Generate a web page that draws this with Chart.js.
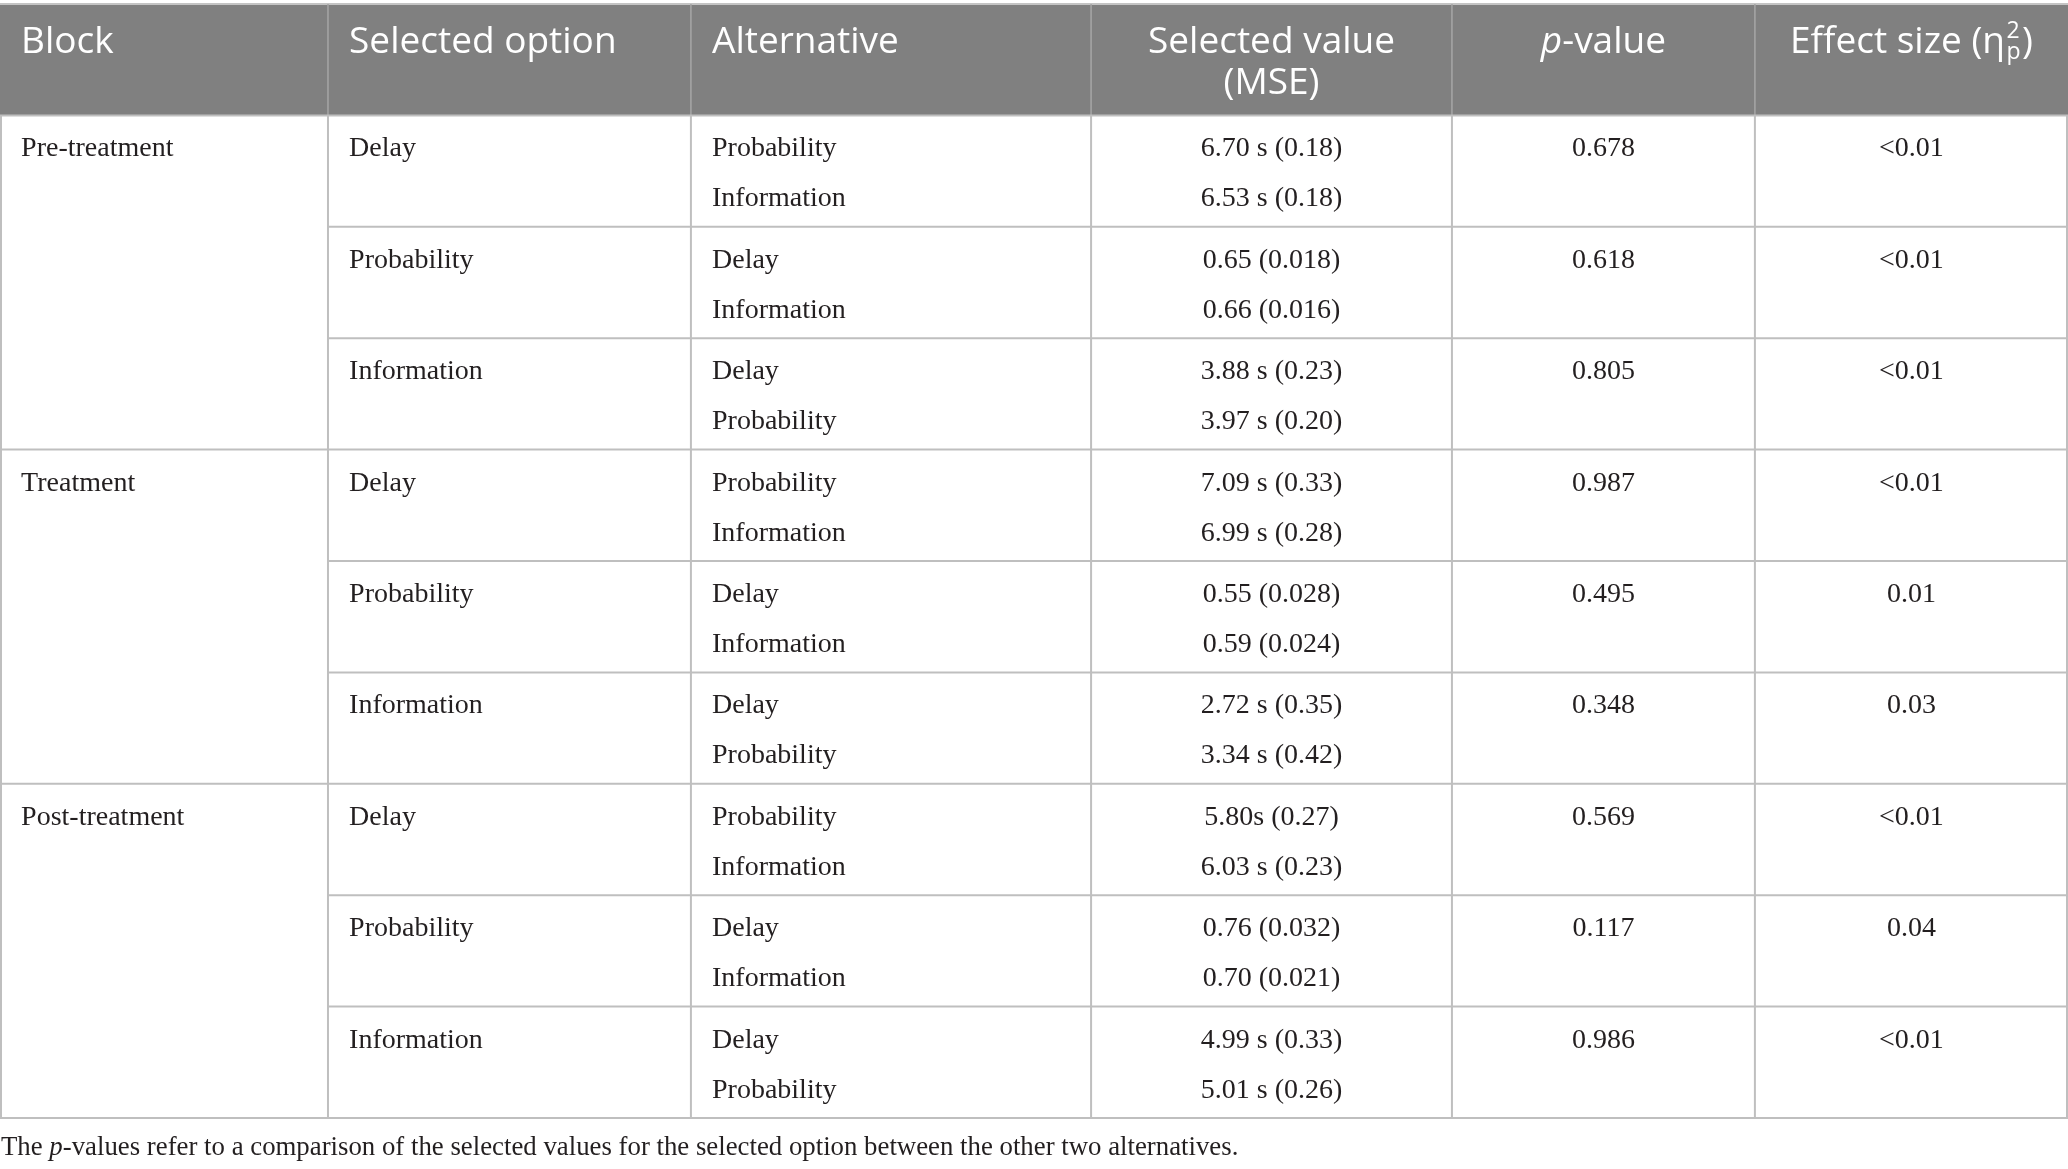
<!DOCTYPE html>
<html>
<head>
<meta charset="utf-8">
<title>Selected values by block</title>
<script src="https://cdn.jsdelivr.net/npm/chart.js@4.4.0/dist/chart.umd.min.js"></script>
<style>
  html, body { margin: 0; padding: 0; background: #fff; }
  #wrap { width: 2068px; height: 1169px; }
</style>
</head>
<body>
<div id="wrap"><canvas id="tableChart"></canvas></div>
<script>
// table content
const headers = ["Block", "Selected option", "Alternative", ["Selected value", "(MSE)"], "p-value", "Effect size (η"];
const blocks = ["Pre-treatment", "Treatment", "Post-treatment"];
const selectedOptions = ["Delay", "Probability", "Information"];
const alternatives = [["Probability", "Information"], ["Delay", "Information"], ["Delay", "Probability"]];
const selectedValues = [
  ["6.70 s (0.18)", "6.53 s (0.18)"],
  ["0.65 (0.018)", "0.66 (0.016)"],
  ["3.88 s (0.23)", "3.97 s (0.20)"],
  ["7.09 s (0.33)", "6.99 s (0.28)"],
  ["0.55 (0.028)", "0.59 (0.024)"],
  ["2.72 s (0.35)", "3.34 s (0.42)"],
  ["5.80s (0.27)", "6.03 s (0.23)"],
  ["0.76 (0.032)", "0.70 (0.021)"],
  ["4.99 s (0.33)", "5.01 s (0.26)"]
];
const pValues = ["0.678", "0.618", "0.805", "0.987", "0.495", "0.348", "0.569", "0.117", "0.986"];
const effectSizes = ["<0.01", "<0.01", "<0.01", "<0.01", "0.01", "0.03", "<0.01", "0.04", "<0.01"];
const footnote = "-values refer to a comparison of the selected values for the selected option between the other two alternatives.";

// layout (x in percent of width, y in row units)
const colEdges = [0, 15.86, 33.41, 52.76, 70.21, 84.86, 100];
const cellPad = 1.02;
const line1 = 0.368, line2 = 0.817;
const headBase1 = -0.56, headBase2 = -0.192;
const footBase = 9.332;

const headFont = '37px "Open Sans"';
const headSmall = '23px "Open Sans"';
const bodyFont = '28px "Liberation Serif"';
const footFont = '26.8px "Liberation Serif"';

const tablePlugin = {
  id: "tablePlugin",
  afterDraw(chart) {
    const ctx = chart.ctx;
    const xs = chart.scales.x, ys = chart.scales.y;
    const X = v => xs.getPixelForValue(v);
    const Y = v => ys.getPixelForValue(v);
    const W = chart.width;
    const clampX = px => Math.min(Math.max(px, 1), W - 1);

    const hLine = (y, x0, x1, color, w) => {
      ctx.strokeStyle = color; ctx.lineWidth = w;
      ctx.beginPath(); ctx.moveTo(X(x0), Y(y)); ctx.lineTo(X(x1), Y(y)); ctx.stroke();
    };
    const vLine = (x, y0, y1, color, w) => {
      const px = clampX(X(x));
      ctx.strokeStyle = color; ctx.lineWidth = w;
      ctx.beginPath(); ctx.moveTo(px, Y(y0)); ctx.lineTo(px, Y(y1)); ctx.stroke();
    };
    const runs = (list, x, y, align) => {
      let total = 0;
      list.forEach(r => { ctx.font = r.font; total += ctx.measureText(r.t).width; });
      let cx = align === "center" ? x - total / 2 : x;
      ctx.textAlign = "left";
      list.forEach(r => {
        ctx.font = r.font;
        ctx.fillText(r.t, cx, y);
        cx += ctx.measureText(r.t).width;
      });
    };

    ctx.save();
    ctx.textBaseline = "alphabetic";

    // header band
    ctx.fillStyle = "#808080";
    ctx.fillRect(X(0), Y(-1), X(100) - X(0), Y(0) - Y(-1));
    hLine(-1, 0, 100, "#c4c4c4", 2);
    for (let c = 1; c < colEdges.length - 1; c++) vLine(colEdges[c], -1, 0, "#a6a6a6", 1.5);

    // header text
    ctx.fillStyle = "#ffffff";
    ctx.font = headFont;
    ctx.textAlign = "left";
    for (let c = 0; c < 3; c++) ctx.fillText(headers[c], X(colEdges[c] + cellPad), Y(headBase1));
    const mid = c => X((colEdges[c] + colEdges[c + 1]) / 2);
    ctx.textAlign = "center";
    ctx.fillText(headers[3][0], mid(3), Y(headBase1));
    ctx.fillText(headers[3][1], mid(3), Y(headBase2));
    runs([{ t: "p", font: "italic " + headFont }, { t: headers[4].slice(1), font: headFont }], mid(4), Y(headBase1), "center");
    // effect size with stacked super/subscript
    ctx.font = headFont;
    const wMain = ctx.measureText(headers[5]).width;
    const wClose = ctx.measureText(")").width;
    ctx.font = headSmall;
    const wScript = Math.max(ctx.measureText("2").width, ctx.measureText("p").width) + 3;
    let ex = mid(5) - (wMain + wScript + wClose) / 2;
    const eb = Y(headBase1);
    ctx.textAlign = "left";
    ctx.font = headFont;
    ctx.fillText(headers[5], ex, eb);
    ex += wMain + 1.5;
    ctx.font = headSmall;
    ctx.fillText("2", ex, eb - 15);
    ctx.fillText("p", ex, eb + 6);
    ex += wScript - 1.5;
    ctx.font = headFont;
    ctx.fillText(")", ex, eb);

    // grid lines
    const grid = "#bfbfbf";
    for (let r = 0; r <= selectedValues.length; r++) {
      const full = r % 3 === 0;
      hLine(r, full ? 0 : colEdges[1], 100, grid, 2);
    }
    colEdges.forEach(c => vLine(c, 0, selectedValues.length, grid, 2));

    // body text
    ctx.fillStyle = "#231f20";
    ctx.font = bodyFont;
    for (let r = 0; r < selectedValues.length; r++) {
      ctx.textAlign = "left";
      if (r % 3 === 0) ctx.fillText(blocks[r / 3], X(colEdges[0] + cellPad), Y(r + line1));
      ctx.fillText(selectedOptions[r % 3], X(colEdges[1] + cellPad), Y(r + line1));
      ctx.fillText(alternatives[r % 3][0], X(colEdges[2] + cellPad), Y(r + line1));
      ctx.fillText(alternatives[r % 3][1], X(colEdges[2] + cellPad), Y(r + line2));
      ctx.textAlign = "center";
      ctx.fillText(selectedValues[r][0], mid(3), Y(r + line1));
      ctx.fillText(selectedValues[r][1], mid(3), Y(r + line2));
      ctx.fillText(pValues[r], mid(4), Y(r + line1));
      ctx.fillText(effectSizes[r], mid(5), Y(r + line1));
    }

    // footnote
    runs([
      { t: "The ", font: footFont },
      { t: "p", font: "italic " + footFont },
      { t: footnote, font: footFont }
    ], X(0) + 1, Y(footBase), "left");

    ctx.restore();
  }
};

function build() {
  new Chart(document.getElementById("tableChart"), {
    type: "scatter",
    data: { datasets: [{ data: [], pointRadius: 0 }] },
    options: {
      responsive: true,
      maintainAspectRatio: false,
      animation: false,
      events: [],
      layout: { padding: 0 },
      plugins: { legend: { display: false }, tooltip: { enabled: false } },
      scales: {
        x: { type: "linear", min: 0, max: 100, display: false },
        y: { type: "linear", min: -1.036, max: 9.458, reverse: true, display: false }
      }
    },
    plugins: [tablePlugin]
  });
}

Promise.all([
  document.fonts.load(headFont),
  document.fonts.load("italic " + headFont),
  document.fonts.load(bodyFont),
  document.fonts.load("italic " + footFont)
]).then(build, build);
</script>
</body>
</html>
